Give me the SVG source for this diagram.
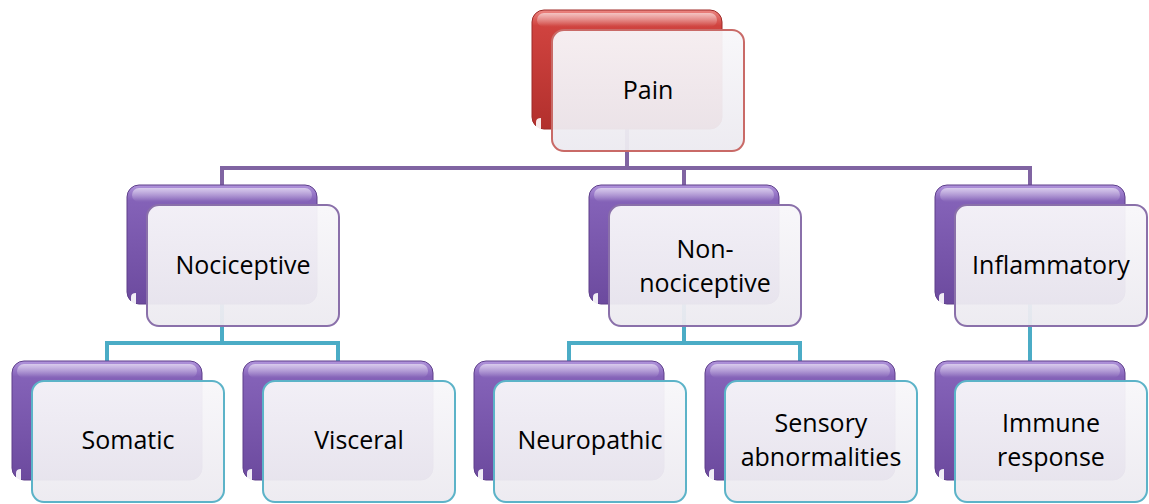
<svg xmlns="http://www.w3.org/2000/svg" width="1149" height="504" viewBox="0 0 1149 504">
<style>
  .lbl { font-family: "Open Sans", "Liberation Sans", sans-serif; font-size: 25px; fill: #000; text-anchor: middle; }
  .back-p { fill: url(#gPurple); stroke: #5e3f8a; stroke-width: 1; }
  .back-r { fill: url(#gRed); stroke: #9e2a28; stroke-width: 1; }
  .hl { fill: url(#gHl); }
  .glint { fill: #ffffff; opacity: 0.9; }
  .front { fill: url(#gFront); fill-opacity: 0.95; stroke-width: 2; }
  .fr { stroke: #c96a67; }
  .fp { stroke: #8a70aa; }
  .ft { stroke: #5cb3c8; }
  .cp { fill: none; stroke: #8064a2; stroke-width: 4; }
  .ct { fill: none; stroke: #4bacc6; stroke-width: 4; }
</style>
<defs>
  <linearGradient id="gPurple" x1="0" y1="0" x2="0" y2="1">
    <stop offset="0" stop-color="#b194dc"/>
    <stop offset="0.13" stop-color="#8462b8"/>
    <stop offset="1" stop-color="#6c4a9e"/>
  </linearGradient>
  <linearGradient id="gRed" x1="0" y1="0" x2="0" y2="1">
    <stop offset="0" stop-color="#ec8682"/>
    <stop offset="0.13" stop-color="#d0433f"/>
    <stop offset="1" stop-color="#b2302d"/>
  </linearGradient>
  <linearGradient id="gHl" x1="0" y1="0" x2="0" y2="1">
    <stop offset="0" stop-color="#ffffff" stop-opacity="0.55"/>
    <stop offset="1" stop-color="#ffffff" stop-opacity="0"/>
  </linearGradient>
  <linearGradient id="gFront" x1="0" y1="0" x2="0" y2="1">
    <stop offset="0" stop-color="#f8f7fa"/>
    <stop offset="1" stop-color="#eceaf0"/>
  </linearGradient>
  <g id="glint"><path class="glint" d="M4,119 L4,112 Q4,108 9,108 L9,119 Z"/></g>
</defs>

<g id="connectors">
  <path class="cp" d="M627,129 V168 M222,185 V168 H1030 V185 M684,168 V185"/>
  <path class="ct" d="M222,304 V343 M107,361 V343 H338 V361"/>
  <path class="ct" d="M684,304 V343 M569,361 V343 H800 V361"/>
  <path class="ct" d="M1030,304 V361"/>
</g>

<g id="node-pain">
  <rect class="back-r" x="532" y="10" width="190" height="119" rx="12"/>
  <rect class="hl" x="537" y="13" width="180" height="14" rx="7"/>
  <use href="#glint" x="532" y="10"/>
  <rect class="front fr" x="552" y="30" width="192" height="121" rx="12"/>
  <text class="lbl" x="648" y="99">Pain</text>
</g>

<g id="node-nociceptive">
  <rect class="back-p" x="127" y="185" width="190" height="119" rx="12"/>
  <rect class="hl" x="132" y="188" width="180" height="14" rx="7"/>
  <use href="#glint" x="127" y="185"/>
  <rect class="front fp" x="147" y="205" width="192" height="121" rx="12"/>
  <text class="lbl" x="243" y="274">Nociceptive</text>
</g>

<g id="node-non-nociceptive">
  <rect class="back-p" x="589" y="185" width="190" height="119" rx="12"/>
  <rect class="hl" x="594" y="188" width="180" height="14" rx="7"/>
  <use href="#glint" x="589" y="185"/>
  <rect class="front fp" x="609" y="205" width="192" height="121" rx="12"/>
  <text class="lbl" x="705" y="258">Non-</text>
  <text class="lbl" x="705" y="292">nociceptive</text>
</g>

<g id="node-inflammatory">
  <rect class="back-p" x="935" y="185" width="190" height="119" rx="12"/>
  <rect class="hl" x="940" y="188" width="180" height="14" rx="7"/>
  <use href="#glint" x="935" y="185"/>
  <rect class="front fp" x="955" y="205" width="192" height="121" rx="12"/>
  <text class="lbl" x="1051" y="274">Inflammatory</text>
</g>

<g id="node-somatic">
  <rect class="back-p" x="12" y="361" width="190" height="119" rx="12"/>
  <rect class="hl" x="17" y="364" width="180" height="14" rx="7"/>
  <use href="#glint" x="12" y="361"/>
  <rect class="front ft" x="32" y="381" width="192" height="121" rx="12"/>
  <text class="lbl" x="128" y="449">Somatic</text>
</g>

<g id="node-visceral">
  <rect class="back-p" x="243" y="361" width="190" height="119" rx="12"/>
  <rect class="hl" x="248" y="364" width="180" height="14" rx="7"/>
  <use href="#glint" x="243" y="361"/>
  <rect class="front ft" x="263" y="381" width="192" height="121" rx="12"/>
  <text class="lbl" x="359" y="449">Visceral</text>
</g>

<g id="node-neuropathic">
  <rect class="back-p" x="474" y="361" width="190" height="119" rx="12"/>
  <rect class="hl" x="479" y="364" width="180" height="14" rx="7"/>
  <use href="#glint" x="474" y="361"/>
  <rect class="front ft" x="494" y="381" width="192" height="121" rx="12"/>
  <text class="lbl" x="590" y="449">Neuropathic</text>
</g>

<g id="node-sensory">
  <rect class="back-p" x="705" y="361" width="190" height="119" rx="12"/>
  <rect class="hl" x="710" y="364" width="180" height="14" rx="7"/>
  <use href="#glint" x="705" y="361"/>
  <rect class="front ft" x="725" y="381" width="192" height="121" rx="12"/>
  <text class="lbl" x="821" y="432">Sensory</text>
  <text class="lbl" x="821" y="466">abnormalities</text>
</g>

<g id="node-immune">
  <rect class="back-p" x="935" y="361" width="190" height="119" rx="12"/>
  <rect class="hl" x="940" y="364" width="180" height="14" rx="7"/>
  <use href="#glint" x="935" y="361"/>
  <rect class="front ft" x="955" y="381" width="192" height="121" rx="12"/>
  <text class="lbl" x="1051" y="432">Immune</text>
  <text class="lbl" x="1051" y="466">response</text>
</g>
</svg>
